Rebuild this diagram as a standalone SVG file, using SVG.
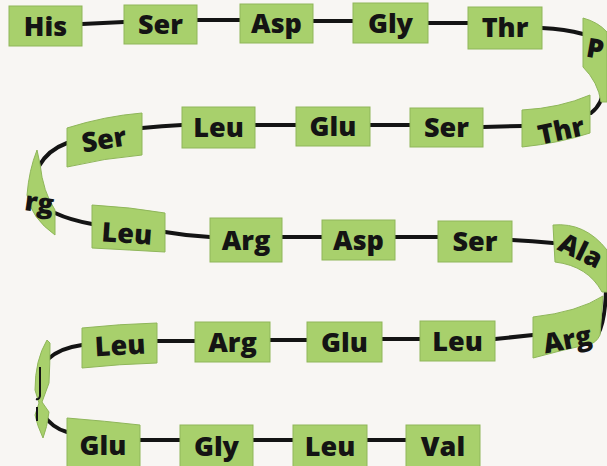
<svg xmlns="http://www.w3.org/2000/svg" width="607" height="466" viewBox="0 0 607 466">
<style>
.bx{fill:#a8d06c;stroke:#8fb65a;stroke-width:1}
.t{font-family:"Open Sans","Noto Sans","DejaVu Sans",sans-serif;font-weight:800;font-size:27px;fill:#141414;text-anchor:middle}
.c{fill:none;stroke:#141414;stroke-width:4;stroke-linecap:round}
.frag{fill:none;stroke:#141414;stroke-width:2}
</style>
<rect width="607" height="466" fill="#f8f6f3"/>
<g id="connectors">
<path class="c" d="M82,24 L124,22"/>
<path class="c" d="M197,20 L240,20"/>
<path class="c" d="M313,21 L353,21"/>
<path class="c" d="M428,23 L468,23"/>
<path class="c" d="M542,28 Q565,29 583,34"/>
<path class="c" d="M604,86 Q603,104 591,113"/>
<path class="c" d="M483,127 L522,126"/>
<path class="c" d="M370,125 L410,125"/>
<path class="c" d="M255,125 L296,125"/>
<path class="c" d="M142,128 Q162,126 182,125"/>
<path class="c" d="M67,143 Q48,150 39,166"/>
<path class="c" d="M55,213 Q70,220 92,224"/>
<path class="c" d="M165,232 Q188,236 210,237"/>
<path class="c" d="M282,237 L322,237"/>
<path class="c" d="M395,237 L438,237"/>
<path class="c" d="M512,240 Q532,241 553,243"/>
<path class="c" d="M606,290 Q605,322 598,334"/>
<path class="c" d="M495,339 Q514,337 533,335"/>
<path class="c" d="M382,339 L420,339"/>
<path class="c" d="M270,340 L307,340"/>
<path class="c" d="M157,341 L195,341"/>
<path class="c" d="M82,345 Q60,348 48,359"/>
<path class="c" d="M43,414 Q52,428 67,432"/>
<path class="c" d="M140,440 L180,440"/>
<path class="c" d="M253,440 L293,440"/>
<path class="c" d="M367,440 L406,440"/>
</g>
<g id="n01-his"><rect class="bx" x="9" y="6" width="73" height="40"/><text class="t" x="45.5" y="36">His</text></g>
<g id="n02-ser"><rect class="bx" x="124" y="5" width="73" height="39"/><text class="t" x="160.5" y="34">Ser</text></g>
<g id="n03-asp"><rect class="bx" x="240" y="4" width="73" height="39"/><text class="t" x="276.5" y="33">Asp</text></g>
<g id="n04-gly"><rect class="bx" x="353" y="3" width="75" height="40"/><text class="t" x="390.5" y="33">Gly</text></g>
<g id="n05-thr"><rect class="bx" x="468" y="7" width="74" height="42"/><text class="t" x="505" y="37">Thr</text></g>
<g id="n06-pro"><path class="bx" d="M583,18 Q598,22 607,32 L607,102 L601,102 Q598,82 583,67 Z"/><text class="t" x="595" y="58" font-size="24" transform="rotate(10,595,50)">P</text></g>
<g id="n07-thr"><path class="bx" d="M522,110 Q560,108 590,95 L590,133 Q560,143 522,147 Z"/><text class="t" x="561" y="140" transform="rotate(-12,561,130)">Thr</text></g>
<g id="n08-ser"><rect class="bx" x="410" y="108" width="73" height="39"/><text class="t" x="446.5" y="137">Ser</text></g>
<g id="n09-glu"><rect class="bx" x="296" y="107" width="74" height="39"/><text class="t" x="333" y="136">Glu</text></g>
<g id="n10-leu"><rect class="bx" x="182" y="107" width="73" height="41"/><text class="t" x="218.5" y="137">Leu</text></g>
<g id="n11-ser"><path class="bx" d="M67,128 Q105,116 142,113 L142,155 Q105,158 67,167 Z"/><text class="t" x="104" y="149" transform="rotate(-9,104,140)">Ser</text></g>
<g id="n12-arg"><path class="bx" d="M37,150 Q29,170 27,195 Q31,218 55,235 L55,210 Q43,192 40,164 Z"/><text class="t" x="39" y="212" font-size="25" transform="rotate(8,39,205)">rg</text></g>
<g id="n13-leu"><path class="bx" d="M92,205 Q130,207 165,213 L165,252 Q130,250 92,248 Z"/><text class="t" x="127" y="243" transform="rotate(4,127,233)">Leu</text></g>
<g id="n14-arg"><rect class="bx" x="210" y="218" width="72" height="44"/><text class="t" x="246" y="250">Arg</text></g>
<g id="n15-asp"><rect class="bx" x="322" y="220" width="73" height="40"/><text class="t" x="358.5" y="250">Asp</text></g>
<g id="n16-ser"><rect class="bx" x="438" y="221" width="74" height="41"/><text class="t" x="475" y="251">Ser</text></g>
<g id="n17-ala"><path class="bx" d="M553,225 Q585,222 607,250 L607,292 L602,292 Q588,266 555,262 Z"/><text class="t" x="580" y="260" font-size="24" transform="rotate(26,580,252)">Ala</text></g>
<g id="n18-arg"><path class="bx" d="M533,317 Q578,312 603,296 L600,335 Q596,343 590,344 Q562,350 533,358 Z"/><text class="t" x="567" y="349" transform="rotate(-11,567,338)">Arg</text></g>
<g id="n19-leu"><rect class="bx" x="420" y="321" width="75" height="40"/><text class="t" x="457.5" y="351">Leu</text></g>
<g id="n20-glu"><rect class="bx" x="307" y="322" width="75" height="40"/><text class="t" x="344.5" y="352">Glu</text></g>
<g id="n21-arg"><rect class="bx" x="195" y="322" width="75" height="40"/><text class="t" x="232.5" y="352">Arg</text></g>
<g id="n22-leu"><path class="bx" d="M82,328 Q120,324 157,323 L157,363 Q120,364 82,368 Z"/><text class="t" x="120" y="355" transform="rotate(-3,120,345)">Leu</text></g>
<g id="n23-turn"><path class="bx" d="M47,340 L50,343 Q50,365 49,383 L42,402 L49,412 Q47,428 43,438 Q37,425 35,415 L39,403 L35,390 Q35,360 47,340 Z"/><path class="frag" d="M40,367 L40,396 Q39,400 36,399"/><path class="frag" d="M37,407 L37,421"/></g>
<g id="n24-glu"><path class="bx" d="M67,418 Q105,421 140,425 L140,470 L67,470 Z"/><text class="t" x="103" y="455">Glu</text></g>
<g id="n25-gly"><rect class="bx" x="180" y="425" width="73" height="45"/><text class="t" x="216.5" y="456">Gly</text></g>
<g id="n26-leu"><rect class="bx" x="293" y="425" width="74" height="45"/><text class="t" x="330" y="456">Leu</text></g>
<g id="n27-val"><rect class="bx" x="406" y="425" width="74" height="45"/><text class="t" x="443" y="456">Val</text></g>
</svg>
